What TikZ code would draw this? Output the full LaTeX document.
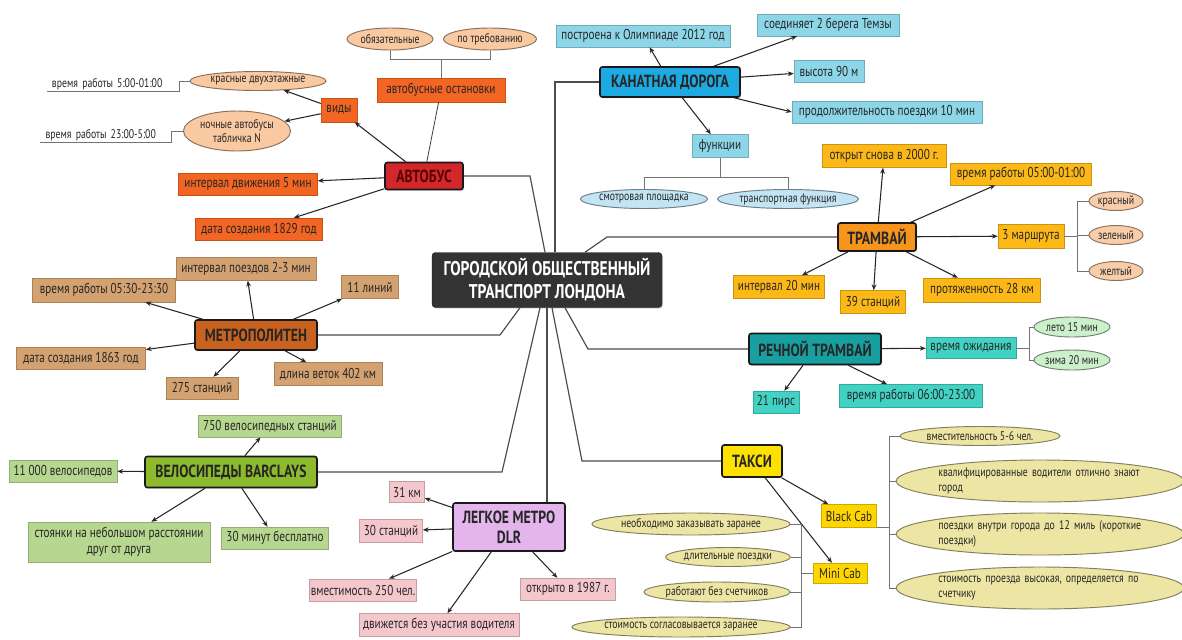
\documentclass[tikz,border=0pt]{standalone}
\usepackage{fontspec}
\setmainfont{PT Sans}[FakeStretch=0.78]
\usepackage{tikz}
\usetikzlibrary{arrows.meta, shapes.geometric, shadows, calc}

\definecolor{busRed}{HTML}{D3282B}
\definecolor{busLeaf}{HTML}{F26522}
\definecolor{busOval}{HTML}{F9C9A2}
\definecolor{cableBlue}{HTML}{1DAAE2}
\definecolor{cableLeaf}{HTML}{8CD6E8}
\definecolor{cableOval}{HTML}{C2E4F3}
\definecolor{tramOrange}{HTML}{F7941D}
\definecolor{tramLeaf}{HTML}{FCB816}
\definecolor{tramOval}{HTML}{F7CDAA}
\definecolor{riverTeal}{HTML}{189F9F}
\definecolor{riverLeaf}{HTML}{42D2C4}
\definecolor{riverOval}{HTML}{CBF0CB}
\definecolor{metroBrown}{HTML}{C9621F}
\definecolor{metroLeaf}{HTML}{D4A271}
\definecolor{bikeGreen}{HTML}{8DBA2C}
\definecolor{bikeLeaf}{HTML}{B6D78F}
\definecolor{dlrViolet}{HTML}{E3B5EC}
\definecolor{dlrLeaf}{HTML}{F4C7CC}
\definecolor{taxiYellow}{HTML}{FFE100}
\definecolor{cabGold}{HTML}{FFD500}
\definecolor{taxiOval}{HTML}{EDE5A3}

\newcommand\leaffont{\fontsize{12.2}{13.5}\selectfont}
\newcommand\headfont{\fontsize{15}{17}\selectfont\bfseries}
\newcommand\ovalfont{\fontsize{10.7}{12.2}\selectfont}

\begin{document}
\begin{tikzpicture}[x=0.3mm, y=-0.3mm,
    every node/.style={font=\leaffont, text=black!85},
    arr/.style={-{Stealth[length=5pt, width=4pt]}, line width=0.9pt, black!85},
    link/.style={line width=1pt, black!70},
    tree/.style={line width=0.7pt, black!55},
    root/.style={draw=black!90, fill=black!80, text=white, rounded corners=3pt, align=center,
      font=\fontsize{16.9}{19.5}\selectfont\bfseries, minimum width=69mm, minimum height=16.5mm,
      drop shadow={shadow xshift=1pt, shadow yshift=-1pt, opacity=.3}},
    head/.style={draw=black!90, line width=1.4pt, rounded corners=2pt, inner sep=0pt, font=\headfont,
      drop shadow={shadow xshift=1pt, shadow yshift=-1pt, opacity=.3}},
    leaf/.style={draw=#1!80!black, line width=0.4pt, fill=#1, inner sep=0pt, minimum height=6.6mm,
      drop shadow={shadow xshift=0.8pt, shadow yshift=-0.8pt, opacity=.3}},
    oval/.style={ellipse, draw=#1!55!black, fill=#1, line width=0.8pt, inner sep=0pt, font=\ovalfont},
    note/.style={inner xsep=1.5mm, inner ysep=1pt, align=left, font=\ovalfont}]

  \fill[white] (0,0) rectangle (1182,639);
  \useasboundingbox (0,0) rectangle (1182,639);

  \node[root] (root) at (547,280) {ГОРОДСКОЙ ОБЩЕСТВЕННЫЙ\\ТРАНСПОРТ ЛОНДОНА};

  \node[head, fill=busRed, text=red!35!black, minimum width=23.4mm, minimum height=8.1mm] (bus) at (424,176) {АВТОБУС};
  \node[leaf=busLeaf, minimum width=38.4mm, minimum height=7.2mm] (stops) at (441,90) {автобусные остановки};
  \node[oval=busOval, minimum width=25.8mm, minimum height=6.6mm] (must) at (390,39) {обязательные};
  \node[oval=busOval, minimum width=27.9mm, minimum height=6.6mm] (request) at (490,39) {по требованию};
  \node[leaf=busLeaf, minimum width=10.8mm, minimum height=7.2mm] (kinds) at (339,110) {виды};
  \node[oval=busOval, minimum width=40.8mm, minimum height=5.7mm] (redbus) at (258,81) {красные двухэтажные};
  \node[oval=busOval, minimum width=32.1mm, minimum height=12mm, align=center] (nightbus) at (237,131) {ночные автобусы\\табличка N};
  \node[note, text width=36.6mm, anchor=south] (dayhours) at (113,91) {время работы 5:00-01:00};
  \node[note, text width=36.3mm, anchor=south] (nighthours) at (106,142) {время работы 23:00-5:00};
  \node[leaf=busLeaf, minimum width=41.7mm] (busint) at (248,184) {интервал движения 5 мин};
  \node[leaf=busLeaf, minimum width=38.1mm] (busyear) at (259,229) {дата создания 1829 год};

  \node[head, fill=cableBlue, minimum width=42mm, minimum height=9mm] (cable) at (670,82) {КАНАТНАЯ ДОРОГА};
  \node[leaf=cableLeaf, minimum width=52.2mm] (olymp) at (643,36) {построена к Олимпиаде 2012 год};
  \node[leaf=cableLeaf, minimum width=42.6mm] (banks) at (828,25) {соединяет 2 берега Темзы};
  \node[leaf=cableLeaf, minimum width=21mm] (height) at (829,71) {высота 90 м};
  \node[leaf=cableLeaf, minimum width=57mm] (ride) at (887,112) {продолжительность поездки 10 мин};
  \node[leaf=cableLeaf, minimum width=16.8mm, minimum height=6.9mm] (func) at (720,146) {функции};
  \node[oval=cableOval, minimum width=38.1mm, minimum height=5.7mm] (view) at (644,199) {смотровая площадка};
  \node[oval=cableOval, minimum width=42.3mm, minimum height=5.7mm] (transit) at (788,199) {транспортная функция};

  \node[head, fill=tramOrange, minimum width=23.4mm, minimum height=8.4mm] (tram) at (877,237) {ТРАМВАЙ};
  \node[leaf=tramLeaf, minimum width=37.2mm, minimum height=6.9mm] (reopen) at (884,156) {открыт снова в 2000 г.};
  \node[leaf=tramLeaf, minimum width=42.3mm] (tramhours) at (1021,174) {время работы 05:00-01:00};
  \node[leaf=tramLeaf, minimum width=19.8mm, minimum height=7.2mm] (routes) at (1031,236) {3 маршрута};
  \node[oval=tramOval, minimum width=16.2mm, minimum height=5.7mm] (rred) at (1116,201) {красный};
  \node[oval=tramOval, minimum width=16.2mm, minimum height=5.7mm] (rgreen) at (1116,235) {зеленый};
  \node[oval=tramOval, minimum width=16.2mm, minimum height=5.7mm] (ryellow) at (1116,271) {желтый};
  \node[leaf=tramLeaf, minimum width=27.3mm, minimum height=6.9mm] (tramint) at (779,287) {интервал 20 мин};
  \node[leaf=tramLeaf, minimum width=19.5mm, minimum height=6.9mm] (tramst) at (873,302) {39 станций};
  \node[leaf=tramLeaf, minimum width=35.1mm, minimum height=7.2mm] (tramlen) at (982,290) {протяженность 28 км};

  \node[head, fill=riverTeal, minimum width=39.6mm, minimum height=9.3mm] (river) at (815,349) {РЕЧНОЙ ТРАМВАЙ};
  \node[leaf=riverLeaf, minimum width=27mm, minimum height=6.3mm] (wait) at (971,348) {время ожидания};
  \node[oval=riverOval, minimum width=22.8mm, minimum height=6mm] (summer) at (1072,327) {лето 15 мин};
  \node[oval=riverOval, minimum width=22.8mm, minimum height=6mm] (winter) at (1072,360) {зима 20 мин};
  \node[leaf=riverLeaf, minimum width=13.8mm] (piers) at (776,402) {21 пирс};
  \node[leaf=riverLeaf, minimum width=42.9mm, minimum height=6.9mm] (riverhours) at (911,396) {время работы 06:00-23:00};

  \node[head, fill=metroBrown, minimum width=36.6mm, minimum height=9mm] (metro) at (256,335) {МЕТРОПОЛИТЕН};
  \node[leaf=metroLeaf, minimum width=42mm, minimum height=6.9mm] (metroint) at (246,269) {интервал поездов 2-3 мин};
  \node[leaf=metroLeaf, minimum width=42.9mm, minimum height=7.2mm] (metrohours) at (104,290) {время работы 05:30-23:30};
  \node[leaf=metroLeaf, minimum width=17.1mm, minimum height=6.9mm] (lines) at (370,287) {11 линий};
  \node[leaf=metroLeaf, minimum width=38.7mm] (metroyear) at (81,358) {дата создания 1863 год};
  \node[leaf=metroLeaf, minimum width=21.6mm] (metrost) at (202,388) {275 станций};
  \node[leaf=metroLeaf, minimum width=32.4mm, minimum height=6.9mm] (metrolen) at (328,374) {длина веток 402 км};

  \node[head, fill=bikeGreen, minimum width=51.6mm, minimum height=9.3mm] (bike) at (231,472) {ВЕЛОСИПЕДЫ BARCLAYS};
  \node[leaf=bikeLeaf, minimum width=42.9mm] (docks) at (270,426) {750 велосипедных станций};
  \node[leaf=bikeLeaf, minimum width=32.4mm] (bikes) at (63,471) {11 000 велосипедов};
  \node[leaf=bikeLeaf, minimum width=54.6mm, minimum height=12mm, align=center] (near) at (119,542) {стоянки на небольшом расстоянии\\друг от друга};
  \node[leaf=bikeLeaf, minimum width=32.1mm] (free) at (275,538) {30 минут бесплатно};

  \node[head, fill=dlrViolet, minimum width=33.6mm, minimum height=14.4mm, align=center] (dlr) at (509,527) {ЛЕГКОЕ МЕТРО\\DLR};
  \node[leaf=dlrLeaf, minimum width=10.5mm, minimum height=6.3mm] (km) at (407,492) {31 км};
  \node[leaf=dlrLeaf, minimum width=18.9mm, minimum height=6.9mm] (dlrst) at (391,531) {30 станций};
  \node[leaf=dlrLeaf, minimum width=32.1mm] (cap) at (363,590) {вместимость 250 чел.};
  \node[leaf=dlrLeaf, minimum width=48mm, minimum height=6.9mm] (driverless) at (439,625) {движется без участия водителя};
  \node[leaf=dlrLeaf, minimum width=28.5mm] (opened) at (568,589) {открыто в 1987 г.};

  \node[head, fill=taxiYellow, minimum width=18mm, minimum height=9.6mm] (taxi) at (752,461) {ТАКСИ};
  \node[leaf=cabGold, minimum width=16.5mm, minimum height=6.9mm] (black) at (849,516) {Black Cab};
  \node[leaf=cabGold, minimum width=16.2mm, minimum height=6mm] (mini) at (840,573) {Mini Cab};
  \node[oval=taxiOval, minimum width=48mm, minimum height=5.7mm] (seats) at (980,436) {вместительность 5-6 чел.};
  \node[oval=taxiOval, minimum width=84mm, minimum height=12.6mm, text width=61mm, align=left] (drivers) at (1040,481) {квалифицированные водители отлично знают\\город};
  \node[oval=taxiOval, minimum width=84mm, minimum height=12.6mm, text width=61mm, align=left] (short) at (1040,534) {поездки внутри города до 12 миль (короткие\\поездки)};
  \node[oval=taxiOval, minimum width=84mm, minimum height=12.6mm, text width=61mm, align=left] (fare) at (1040,588) {стоимость проезда высокая, определяется по\\счетчику};
  \node[oval=taxiOval, minimum width=59.4mm, minimum height=6.6mm] (order) at (691,524) {необходимо заказывать заранее};
  \node[oval=taxiOval, minimum width=36.6mm, minimum height=5.7mm] (long) at (728,557) {длительные поездки};
  \node[oval=taxiOval, minimum width=43.8mm, minimum height=6mm] (nometer) at (717,592) {работают без счетчиков};
  \node[oval=taxiOval, minimum width=65.4mm, minimum height=6mm] (agreed) at (681,627) {стоимость согласовывается заранее};

  \draw[link] ($(root.north)+(-2,0)$) -- (530,176) -- (bus);
  \draw[link] ($(root.north)+(8,0)$) |- (cable);
  \draw[link] ($(root.north)+(38,0)$) -- (607,237) -- (tram);
  \draw[link] ($(root.south)+(-27,0)$) -- (500,335) -- (metro);
  \draw[link] ($(root.south)+(18,0)$) -- (588,349) -- (river);
  \draw[link] ($(root.south)+(-7,0)$) -- (502,472) -- (bike);
  \draw[link] ($(root.south)+(5,0)$) -- (582,461) -- (taxi);
  \draw[link] (root.south) -- (root.south |- dlr.north);

  \draw[tree, black!75] (bus) -- (stops);
  \draw[tree] (must.south) -- ++(0,9) -| (stops.north);
  \draw[tree] (request.south) -- ++(0,9) -| (stops.north);
  \draw[tree] (dayhours.south west) -- (dayhours.south east) |- (redbus.west);
  \draw[tree] (nighthours.south west) -- (nighthours.south east) |- (nightbus.west);
  \draw[arr] (bus) -- (kinds);
  \draw[arr] (kinds) -- (redbus);
  \draw[arr] (kinds) -- (nightbus);
  \draw[arr] (bus) -- (busint);
  \draw[arr] (bus) -- (busyear);

  \draw[arr] (cable) -- (olymp);
  \draw[arr] (cable) -- (banks);
  \draw[arr] (cable) -- (height);
  \draw[arr] (cable) -- (ride.west);
  \draw[arr] (cable) -- (func);
  \draw[tree] (view.north) -- ++(0,-12) -| (func.south);
  \draw[tree] (transit.north) -- ++(0,-12) -| (func.south);

  \draw[arr] (tram) -- (reopen);
  \draw[arr] (tram) -- (tramhours);
  \draw[arr] (tram) -- (routes);
  \draw[arr] (tram) -- (tramint);
  \draw[arr] (tram) -- (tramst);
  \draw[arr] (tram) -- (tramlen);
  \draw[tree] (routes.east) -- ++(13,0) coordinate (routefork);
  \draw[tree] (routefork) |- (rred.west);
  \draw[tree] (routefork) |- (rgreen.west);
  \draw[tree] (routefork) |- (ryellow.west);

  \draw[arr] (river) -- (wait);
  \draw[arr] (river) -- (piers);
  \draw[arr] (river) -- (riverhours);
  \draw[tree] (wait.east) -- ++(13,0) coordinate (waitfork);
  \draw[tree] (waitfork) |- (summer.west);
  \draw[tree] (waitfork) |- (winter.west);

  \draw[arr] (metro) -- (metroint);
  \draw[arr] (metro) -- (metrohours);
  \draw[arr] (metro) -- (lines);
  \draw[arr] (metro) -- (metroyear);
  \draw[arr] (metro) -- (metrost);
  \draw[arr] (metro) -- (metrolen);

  \draw[arr] (bike) -- (docks);
  \draw[arr] (bike) -- (bikes);
  \draw[arr] (bike) -- (near);
  \draw[arr] (bike) -- (free);

  \draw[arr] (dlr) -- (km);
  \draw[arr] (dlr) -- (dlrst);
  \draw[arr] (dlr) -- (cap);
  \draw[arr] (dlr) -- (driverless);
  \draw[arr] (dlr) -- (opened);

  \draw[arr] (taxi) -- (black);
  \draw[arr] (taxi) -- (mini);
  \draw[tree] (black.south east) -- ++(13,0) coordinate (blackfork);
  \draw[tree] (blackfork) |- (seats.west);
  \draw[tree] (blackfork) |- (drivers.west);
  \draw[tree] (blackfork) |- (short.west);
  \draw[tree] (blackfork) |- (fare.west);
  \draw[tree] (mini.west) -- ++(-11,0) coordinate (minifork);
  \draw[tree] (minifork) |- (order.east);
  \draw[tree] (minifork) |- (long.east);
  \draw[tree] (minifork) |- (nometer.east);
  \draw[tree] (minifork) |- (agreed.east);
\end{tikzpicture}
\end{document}
